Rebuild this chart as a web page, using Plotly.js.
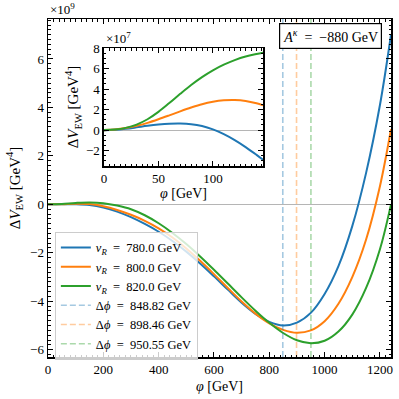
<!DOCTYPE html>
<html>
<head>
<meta charset="utf-8">
<script src="https://cdn.plot.ly/plotly-3.0.1.min.js"></script>
<style>
  html, body { margin: 0; padding: 0; background: #fff; }
  #tester { width: 399px; height: 399px; }
</style>
</head>
<body>
<div id="tester"></div>
<script>
// main panel, phi in GeV, dV in units of 1e9 GeV^4
var phi = [0, 50, 100, 150, 200, 250, 300, 350, 400, 450, 500, 550, 600,
           650, 700, 750, 800, 850, 900, 950, 1000, 1050, 1100, 1150, 1200, 1240];
var v780 = [0, 0.003, 0.002, -0.03, -0.13, -0.3, -0.53, -0.81, -1.13, -1.51, -1.95, -2.44, -2.97,
            -3.52, -4.06, -4.52, -4.85, -5.0, -4.88, -4.48, -3.7, -2.55, -0.9, 1.3, 4.1, 7.0];
var v800 = [0, 0.006, 0.028, 0.01, -0.08, -0.23, -0.43, -0.68, -0.99, -1.37, -1.82, -2.33, -2.88,
            -3.45, -4.01, -4.51, -4.91, -5.18, -5.3, -5.2, -4.82, -4.1, -3.0, -1.45, 0.75, 3.1];
var v820 = [0, 0.018, 0.059, 0.08, 0.05, -0.05, -0.2, -0.45, -0.78, -1.18, -1.64, -2.15, -2.7,
            -3.27, -3.84, -4.39, -4.89, -5.31, -5.61, -5.73, -5.63, -5.25, -4.55, -3.45, -1.85, 0.0];

// inset, dV in units of 1e7 GeV^4
var phiIn = [0, 10, 20, 30, 40, 50, 60, 70, 80, 90, 100, 110, 120, 130, 140, 146];
var in780 = [0, 0.03, 0.13, 0.27, 0.42, 0.54, 0.62, 0.64, 0.58, 0.4, 0.07, -0.39, -0.97, -1.65, -2.41, -2.89];
var in800 = [0, 0.06, 0.2, 0.42, 0.71, 1.06, 1.44, 1.83, 2.2, 2.53, 2.77, 2.91, 2.94, 2.85, 2.62, 2.42];
var in820 = [0, 0.06, 0.22, 0.54, 1.06, 1.78, 2.64, 3.54, 4.4, 5.17, 5.83, 6.38, 6.83, 7.18, 7.42, 7.54];

var vR = [780.0, 800.0, 820.0];
var dphi = [848.82, 898.46, 950.55];
var colors = ['#1f77b4', '#ff7f0e', '#2ca02c'];

var xRange = [0, 1240];
var yRange = [-6.3, 7.65];

var mainV = [v780, v800, v820];
var insetV = [in780, in800, in820];

var font = 'Liberation Serif, DejaVu Serif, serif';
var eq = '\u2002=\u2002';
var data = [];

for (var i = 0; i < 3; i++) {
  data.push({
    x: phi, y: mainV[i],
    type: 'scatter', mode: 'lines',
    line: {color: colors[i], width: 2, shape: 'spline', smoothing: 1},
    name: '<i>v</i><sub><i>R</i></sub>' + eq + vR[i].toFixed(1) + ' GeV'
  });
}
for (var i = 0; i < 3; i++) {
  data.push({
    x: [dphi[i], dphi[i]], y: yRange,
    type: 'scatter', mode: 'lines',
    line: {color: colors[i], width: 1.6, dash: '6px,3px'},
    opacity: 0.4,
    name: 'Δ<i>ϕ</i>' + eq + dphi[i].toFixed(2) + ' GeV'
  });
}
for (var i = 0; i < 3; i++) {
  data.push({
    x: phiIn, y: insetV[i],
    xaxis: 'x2', yaxis: 'y2',
    type: 'scatter', mode: 'lines',
    line: {color: colors[i], width: 2, shape: 'spline', smoothing: 1},
    showlegend: false
  });
}

function ax(extra) {
  var a = {
    showline: true, linecolor: 'black', linewidth: 1.5, mirror: 'allticks',
    ticks: 'inside', ticklen: 5, tickwidth: 1, tickcolor: 'black',
    showgrid: false, zeroline: false,
    tickfont: {family: font, size: 13, color: 'black'}
  };
  for (var k in extra) a[k] = extra[k];
  return a;
}

var layout = {
  width: 399, height: 399,
  margin: {l: 48, r: 8, t: 19, b: 42},
  paper_bgcolor: 'white', plot_bgcolor: 'white',
  font: {family: font, size: 13, color: 'black'},
  xaxis: ax({
    range: xRange, tick0: 0, dtick: 200,
    minor: {ticks: 'inside', ticklen: 2.5, dtick: 20, tickcolor: 'black'},
    title: {text: '<i>φ</i> [GeV]', font: {family: font, size: 14}, standoff: 5}
  }),
  yaxis: ax({
    range: yRange, tick0: 0, dtick: 2,
    zeroline: true, zerolinecolor: '#b5b5b5', zerolinewidth: 1,
    minor: {ticks: 'inside', ticklen: 2.5, dtick: 0.2, tickcolor: 'black'},
    title: {text: 'Δ<i>V</i><sub>EW</sub> [GeV<sup>4</sup>]', font: {family: font, size: 15}, standoff: 6}
  }),
  xaxis2: ax({
    anchor: 'y2', domain: [0.163, 0.627],
    range: [0, 146], tick0: 0, dtick: 50,
    minor: {ticks: 'inside', ticklen: 2.5, dtick: 5, tickcolor: 'black'},
    title: {text: '<i>φ</i> [GeV]', font: {family: font, size: 14}, standoff: 1}
  }),
  yaxis2: ax({
    anchor: 'x2', domain: [0.565, 0.914],
    range: [-3.5, 8], tick0: 0, dtick: 2,
    zeroline: true, zerolinecolor: '#b5b5b5', zerolinewidth: 1,
    minor: {ticks: 'inside', ticklen: 2.5, dtick: 0.5, tickcolor: 'black'},
    title: {text: 'Δ<i>V</i><sub>EW</sub> [GeV<sup>4</sup>]', font: {family: font, size: 15}, standoff: 3}
  }),
  legend: {
    x: 0.02, y: 0.37, xanchor: 'left', yanchor: 'top',
    bgcolor: 'rgba(255,255,255,0.8)', bordercolor: '#cccccc', borderwidth: 1,
    font: {family: font, size: 12.5}, itemwidth: 30, tracegroupgap: 0
  },
  annotations: [
    {xref: 'paper', yref: 'paper', x: 0, y: 1, xanchor: 'left', yanchor: 'bottom',
     text: '×10<sup>9</sup>', showarrow: false, font: {family: font, size: 13}, yshift: 0},
    {xref: 'x2 domain', yref: 'y2 domain', x: 0, y: 1, xanchor: 'left', yanchor: 'bottom',
     text: '×10<sup>7</sup>', showarrow: false, font: {family: font, size: 13}, yshift: 0},
    {xref: 'paper', yref: 'paper', x: 0.825, y: 0.95, xanchor: 'center', yanchor: 'middle',
     text: '<i>A</i><sup><i>κ</i></sup>' + eq + '−880 GeV', showarrow: false,
     font: {family: font, size: 14}, bgcolor: 'white', bordercolor: 'black', borderwidth: 1.2, borderpad: 3}
  ]
};

Plotly.newPlot('tester', data, layout, {displayModeBar: false, staticPlot: true});
</script>
</body>
</html>
